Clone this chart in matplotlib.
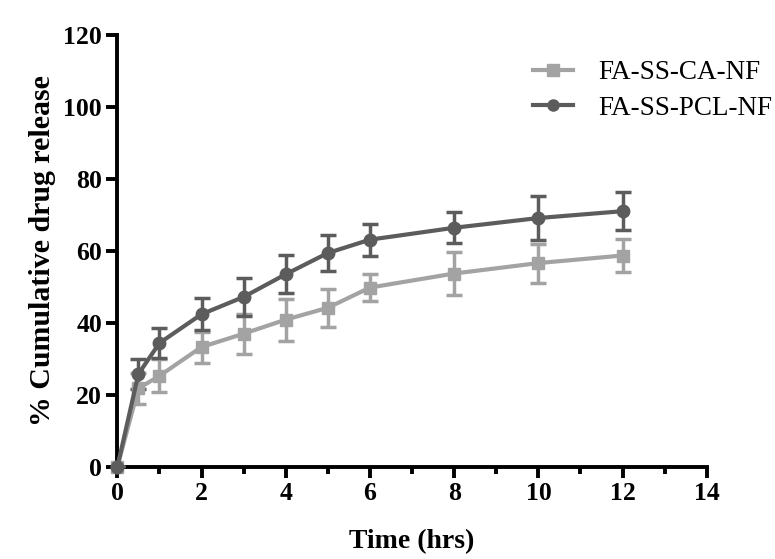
import numpy as np
import matplotlib.pyplot as plt
from matplotlib.ticker import MultipleLocator
from matplotlib.lines import Line2D

plt.rcParams['font.family'] = ['Liberation Serif', 'DejaVu Serif']

# Time points (hrs)
time = [0, 0.5, 1, 2, 3, 4, 5, 6, 8, 10, 12]

# FA-SS-CA-NF
ca_mean = [0, 21.8, 25.3, 33.3, 37.0, 40.9, 44.2, 49.8, 53.7, 56.6, 58.7]
ca_err = [0, 4.4, 4.6, 4.3, 5.5, 5.8, 5.3, 3.8, 6.0, 5.4, 4.7]

# FA-SS-PCL-NF
pcl_mean = [0, 25.8, 34.4, 42.4, 47.2, 53.5, 59.4, 63.1, 66.4, 69.1, 71.0]
pcl_err = [0, 4.1, 4.1, 4.4, 5.3, 5.3, 5.1, 4.4, 4.3, 6.1, 5.3]

labels = ["FA-SS-CA-NF", "FA-SS-PCL-NF"]
colors = ["#a3a3a3", "#5c5c5c"]
markers = ["s", "o"]

fig = plt.figure(figsize=(7.75, 5.59), dpi=100)
ax = fig.add_axes([0.1514, 0.1646, 0.912 - 0.1514, 0.938 - 0.1646])

for m, e, c, mk in [(ca_mean, ca_err, colors[0], markers[0]),
                    (pcl_mean, pcl_err, colors[1], markers[1])]:
    eb = ax.errorbar(time, m, yerr=e, color=c, marker=mk, ms=9, lw=3,
                     elinewidth=2.5, capsize=6, capthick=2.5, zorder=3)
    eb.lines[0].set_clip_on(False)

ax.set_xlim(0, 14)
ax.set_ylim(0, 120)
ax.xaxis.set_major_locator(MultipleLocator(2))
ax.xaxis.set_minor_locator(MultipleLocator(1))
ax.yaxis.set_major_locator(MultipleLocator(20))

for s in ["top", "right"]:
    ax.spines[s].set_visible(False)
for s in ["left", "bottom"]:
    ax.spines[s].set_linewidth(2.8)
ax.tick_params(which="major", direction="out", length=8, width=2.8,
               labelsize=18.5, pad=3)
ax.tick_params(which="minor", direction="out", length=5, width=2.8)
for lab in ax.get_xticklabels() + ax.get_yticklabels():
    lab.set_fontweight("bold")

ax.set_xlabel("Time (hrs)", fontsize=20, fontweight="bold", labelpad=17)
ax.set_ylabel("% Cumulative drug release", fontsize=21.5, fontweight="bold", labelpad=5)

handles = [Line2D([], [], color=colors[i], marker=markers[i], ms=8, lw=3)
           for i in range(2)]
ax.legend(handles, labels, loc="upper left", bbox_to_anchor=(0.6735, 0.912),
          bbox_transform=fig.transFigure, borderaxespad=0,
          frameon=False, fontsize=19.5, handlelength=1.5, handletextpad=0.93,
          labelspacing=0.4)

fig.savefig("out.png", dpi=100)
